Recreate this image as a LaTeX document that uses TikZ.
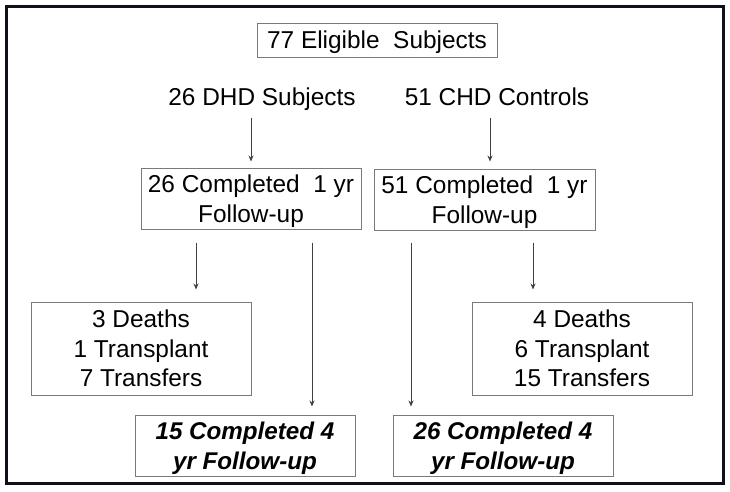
\documentclass[tikz,border=0pt]{standalone}
\usepackage{fontspec}
\setmainfont{Liberation Sans}
\usetikzlibrary{arrows.meta}
\definecolor{boxgray}{HTML}{7A7A7A}
\definecolor{arrgray}{HTML}{404040}
\definecolor{frame}{HTML}{10101A}
\begin{document}
\begin{tikzpicture}[x=1pt,y=-1pt,
  every node/.style={font=\fontsize{24.4}{29.5}\selectfont, inner sep=0pt, align=center},
  box/.style={draw=boxgray, line width=1pt, minimum width=220pt, text depth=0pt},
  bi/.style={font=\fontsize{24.2}{29.5}\selectfont\bfseries\itshape},
  arr/.style={draw=arrgray, line width=0.9pt, -{Stealth[length=6pt,width=5pt]}}]
\useasboundingbox (0,0) rectangle (730,491);
\fill[white] (0,0) rectangle (730,491);
\draw[frame, line width=3pt] (6,6) rectangle (723,483.5);

\node[box, minimum width=240pt, minimum height=34pt] (top) at (377,40) {77 Eligible\ \ Subjects};
\node[anchor=base] (dhd) at (262,105.5) {26 DHD Subjects};
\node[anchor=base] (chd) at (497,105.5) {51 CHD Controls};

\node[box, minimum height=61pt] (L1) at (251,198.5) {26 Completed\ \ 1 yr\\Follow-up};
\node[box, minimum width=221pt, minimum height=61pt] (R1) at (484.5,199.5) {51 Completed\ \ 1 yr\\Follow-up};

\node[box, minimum height=93pt] (LD) at (141,348.5) {3 Deaths\\1 Transplant\\7 Transfers};
\node[box, minimum height=93pt] (RD) at (582,348.5) {4 Deaths\\6 Transplant\\15 Transfers};

\node[box, bi, minimum height=61pt] (L4) at (245,445.5) {15 Completed 4\\yr Follow-up};
\node[box, bi, minimum height=61pt] (R4) at (503,445.5) {26 Completed 4\\yr Follow-up};

\draw[arr] ([shift={(0,-50)}]L1.north) -- ([shift={(0,-6)}]L1.north);
\draw[arr] ([shift={(5.5,-51)}]R1.north) -- ([shift={(5.5,-7)}]R1.north);

\draw[arr] ([shift={(-55,13)}]L1.south) -- ([shift={(55,-12)}]LD.north);
\draw[arr] ([shift={(61,13)}]L1.south) -- ([shift={(67,-8)}]L4.north);
\draw[arr] ([shift={(-73.5,12)}]R1.south) -- ([shift={(-92,-8)}]R4.north);
\draw[arr] ([shift={(48.5,12)}]R1.south) -- ([shift={(-49,-12)}]RD.north);
\end{tikzpicture}
\end{document}
